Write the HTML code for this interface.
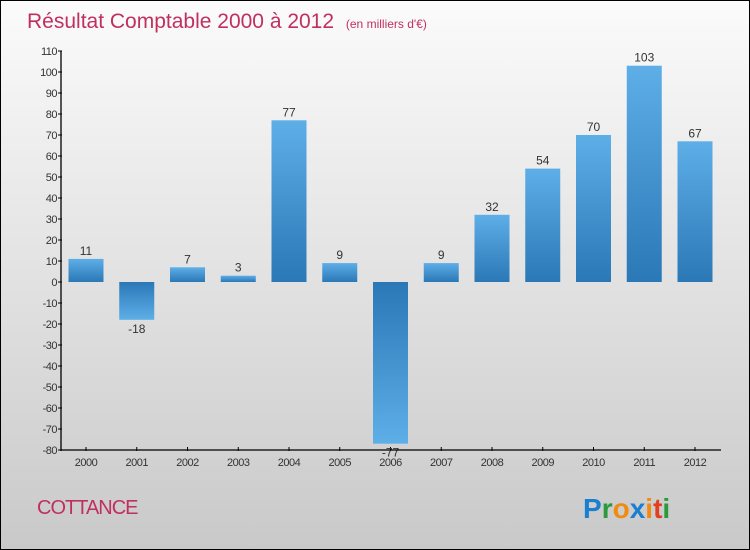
<!DOCTYPE html>
<html><head><meta charset="utf-8"><style>
body{margin:0}
#wrap{width:748px;height:548px;border:1px solid #000;background:linear-gradient(#fbfbfb,#c9c9c9);position:relative;overflow:hidden;font-family:"Liberation Sans",sans-serif}
</style></head><body>
<div id="wrap">
<svg id="svg" width="748" height="548" xmlns="http://www.w3.org/2000/svg">
<defs>
<linearGradient id="gp" x1="0" y1="0" x2="0" y2="1"><stop offset="0" stop-color="#5eaee8"/><stop offset="1" stop-color="#2a78b6"/></linearGradient>
<linearGradient id="gn" x1="0" y1="0" x2="0" y2="1"><stop offset="0" stop-color="#2a78b6"/><stop offset="1" stop-color="#5eaee8"/></linearGradient>
</defs>
<text x="26" y="27" font-size="21" fill="#c0305f">Résultat Comptable 2000 à 2012 <tspan font-size="12" dx="6">(en milliers d'€)</tspan></text>
<text x="36" y="513" font-size="20" fill="#c0305f" letter-spacing="-1">COTTANCE</text>
<text x="582" y="517" font-size="28" font-weight="bold" font-family="Liberation Sans, sans-serif"><tspan fill="#1a7fd0">P</tspan><tspan fill="#2a9a3a">r</tspan><tspan fill="#f08a10">o</tspan><tspan fill="#1a7fd0">x</tspan><tspan fill="#f08a10">i</tspan><tspan fill="#e04020">t</tspan><tspan fill="#2a9a3a">i</tspan></text>
<g id="plot"></g>
</svg>
</div>
<script>
const categories=["2000","2001","2002","2003","2004","2005","2006","2007","2008","2009","2010","2011","2012"];
const values=[11,-18,7,3,77,9,-77,9,32,54,70,103,67];
const yTicks=[110,100,90,80,70,60,50,40,30,20,10,0,-10,-20,-30,-40,-50,-60,-70,-80];
const NS="http://www.w3.org/2000/svg";
const g=document.getElementById('plot');
const yMin=-80,yMax=110,plotTop=50,plotBot=449;
function y(v){return plotBot-(v-yMin)/(yMax-yMin)*(plotBot-plotTop);}
function x(i){return 85+i*50.75;}
function mk(t,a,txt){const e=document.createElementNS(NS,t);for(const k in a)e.setAttribute(k,a[k]);if(txt!==undefined)e.textContent=txt;g.appendChild(e);return e;}
categories.forEach((c,i)=>{
 const cx=x(i),v=values[i];
 const b=mk('rect',{x:cx-17.5,y:Math.min(y(v),y(0)),width:35,height:Math.abs(y(v)-y(0)),fill:v>=0?'url(#gp)':'url(#gn)'});
 
 
 const t=mk('line',{x1:cx,y1:plotBot-3,x2:cx,y2:plotBot+1,stroke:'#000'});
 
 
 const l=mk('text',{x:cx,y:plotBot+16,'font-size':11,'text-anchor':'middle',fill:'#333','letter-spacing':'-0.5'},c);
 
 
 const vl=mk('text',{x:cx,y:v>=0?y(v)-4:y(v)+13,'font-size':12,'text-anchor':'middle',fill:'#333'},v);
 
 
});
let ax=mk('line',{x1:60,y1:plotTop,x2:60,y2:plotBot+1,stroke:'#000','stroke-width':1.3});


let xa=mk('line',{x1:60,y1:plotBot,x2:720,y2:plotBot,stroke:'#000','stroke-width':1.3});


yTicks.forEach(v=>{
 const t=mk('line',{x1:57,y1:y(v),x2:61,y2:y(v),stroke:'#000'});
 
 
 const l=mk('text',{x:56,y:y(v)+4,'font-size':11,'text-anchor':'end',fill:'#333','letter-spacing':'-0.5'},v);
 
 
});
</script>
</body></html>
